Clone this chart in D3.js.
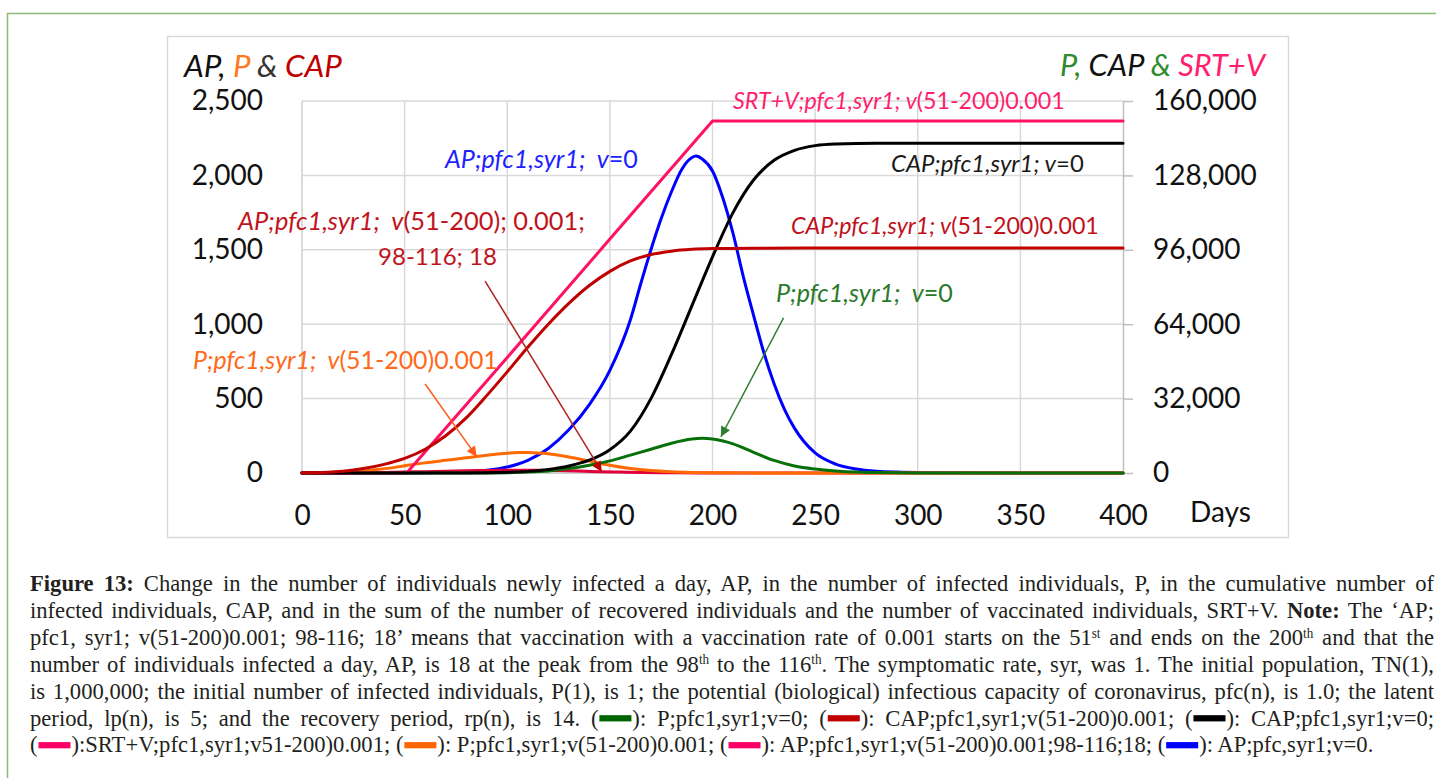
<!DOCTYPE html>
<html>
<head>
<meta charset="utf-8">
<title>Figure 13</title>
<script src="https://cdn.jsdelivr.net/npm/d3@7/dist/d3.min.js"></script>
<style>
  html, body { margin:0; padding:0; background:#ffffff; }
  svg { display:block; }
</style>
</head>
<body>
<svg id="chart" width="1436" height="778"></svg>
<script>
// ---------------- data ----------------
const dayTicks   = [0, 50, 100, 150, 200, 250, 300, 350, 400];
const leftTicks  = [0, 500, 1000, 1500, 2000, 2500];
const rightTicks = [0, 32000, 64000, 96000, 128000, 160000];

// AP;pfc1,syr1;v=0  (blue, left axis)
const apV0Days   = [0, 40, 60, 70, 80, 90, 100, 110, 120, 130, 140, 150, 160, 165, 170, 175, 180, 185, 190, 192, 195, 200, 205, 210, 215, 220, 225, 230, 235, 240, 250, 260, 270, 280, 290, 300, 320, 350, 400];
const apV0Values = [0, 0.5, 2, 4, 8, 18, 40, 85, 165, 290, 460, 690, 1030, 1270, 1500, 1710, 1890, 2040, 2120, 2130, 2110, 2030, 1850, 1610, 1320, 1060, 810, 600, 430, 300, 135, 60, 27, 12, 6, 3, 1, 0, 0];

// AP;pfc1,syr1;v(51-200)0.001;98-116;18  (left axis)
const apVacDays   = [0, 20, 30, 40, 50, 60, 70, 80, 90, 98, 107, 116, 125, 135, 145, 155, 165, 175, 185, 200, 220, 250, 400];
const apVacValues = [0, 0.4, 2, 4, 6.5, 9, 12, 15, 17, 18, 18, 18, 16, 13, 9, 6, 3.5, 2, 1, 0.4, 0.1, 0, 0];

// P;pfc1,syr1;v(51-200)0.001  (orange, left axis)
const pVacDays   = [0, 10, 20, 30, 40, 50, 60, 70, 80, 90, 100, 105, 110, 115, 120, 130, 140, 150, 160, 170, 180, 190, 200, 220, 400];
const pVacValues = [0, 1, 5, 14, 28, 48, 68, 85, 102, 120, 133, 137, 137, 135, 130, 108, 80, 52, 30, 16, 8, 4, 2, 0.5, 0];

// P;pfc1,syr1;v=0  (green, right axis)
const pV0Days   = [0, 90, 100, 110, 120, 130, 140, 150, 160, 170, 180, 190, 195, 200, 210, 220, 230, 240, 250, 260, 270, 280, 300, 320, 400];
const pV0Values = [0, 50, 150, 400, 900, 1900, 3300, 5200, 7700, 10200, 12800, 14600, 14900, 14600, 12500, 8900, 5400, 3000, 1700, 900, 400, 180, 40, 0, 0];

// CAP;pfc1,syr1;v=0  (black, right axis)
const capV0Days   = [0, 80, 100, 110, 120, 130, 140, 150, 160, 170, 180, 190, 200, 210, 220, 230, 240, 250, 260, 280, 300, 400];
const capV0Values = [0, 50, 300, 700, 1500, 3000, 5500, 10000, 18000, 32000, 51000, 72000, 93000, 112000, 126000, 134500, 138800, 140800, 141500, 141800, 141800, 141800];

// CAP;pfc1,syr1;v(51-200)0.001  (dark red, left axis)
const capVacDays   = [0, 10, 20, 30, 40, 50, 60, 70, 80, 90, 100, 110, 120, 130, 140, 150, 160, 170, 180, 190, 200, 220, 250, 400];
const capVacValues = [1, 4, 12, 30, 58, 98, 160, 250, 370, 520, 680, 845, 1000, 1140, 1260, 1355, 1425, 1468, 1491, 1503, 1508, 1511, 1512, 1512];

// SRT+V;pfc1,syr1;v(51-200)0.001  (pink, right axis)
const srtVacDays   = [0, 51, 100, 150, 200, 400];
const srtVacValues = [0, 0, 49700, 100600, 151400, 151400];

// ---------------- layout ----------------
const plot = { left: 302, right: 1123, top: 101, bottom: 473 };
const svg = d3.select("#chart");
const tickFont = "Lato, 'Open Sans', sans-serif";

const x  = d3.scaleLinear().domain([0, 400]).range([plot.left, plot.right]);
const yL = d3.scaleLinear().domain([0, 2500]).range([plot.bottom, plot.top]);
const yR = d3.scaleLinear().domain([0, 160000]).range([plot.bottom, plot.top]);

// outer green frame (left and top edges only are visible)
svg.append("path").attr("d", "M7.5,790 V13.5 H1436")
   .attr("fill", "none").attr("stroke", "#8dbb73").attr("stroke-width", 1.5);
// chart area frame
svg.append("rect").attr("x", 167.5).attr("y", 36.5).attr("width", 1121).attr("height", 501)
   .attr("fill", "#fff").attr("stroke", "#d9d9d9").attr("stroke-width", 1.5);

// grid
const grid = svg.append("g");
grid.selectAll("line.v").data(dayTicks.filter(d => d > 0 && d < 400)).join("line")
  .attr("x1", d => x(d)).attr("x2", d => x(d)).attr("y1", plot.top).attr("y2", plot.bottom)
  .attr("stroke", "#d9d9d9").attr("stroke-width", 1.5);
grid.selectAll("line.h").data(leftTicks.filter(d => d > 0)).join("line")
  .attr("x1", plot.left).attr("x2", plot.right).attr("y1", d => yL(d)).attr("y2", d => yL(d))
  .attr("stroke", "#d9d9d9").attr("stroke-width", 1.5);
grid.append("line").attr("x1", plot.left).attr("x2", plot.left).attr("y1", plot.top).attr("y2", plot.bottom)
  .attr("stroke", "#cfcfcf").attr("stroke-width", 1.5);
grid.append("line").attr("x1", plot.left).attr("x2", plot.right).attr("y1", plot.bottom).attr("y2", plot.bottom)
  .attr("stroke", "#bfbfbf").attr("stroke-width", 1.5);

// axes
const axL = svg.append("g").attr("transform", `translate(${plot.left},0)`)
  .call(d3.axisLeft(yL).tickValues(leftTicks).tickSize(0).tickPadding(39).tickFormat(d3.format(",")));
axL.select(".domain").remove();
const axR = svg.append("g").attr("transform", `translate(${plot.right},0)`)
  .call(d3.axisRight(yR).tickValues(rightTicks).tickSize(10).tickSizeOuter(0).tickPadding(20).tickFormat(d3.format(",")));
axR.select(".domain").attr("stroke", "#bfbfbf").attr("stroke-width", 1.5);
axR.selectAll(".tick line").attr("stroke", "#bfbfbf").attr("stroke-width", 1.5);
const axB = svg.append("g").attr("transform", `translate(0,${plot.bottom})`)
  .call(d3.axisBottom(x).tickValues(dayTicks).tickSize(0).tickPadding(32).tickFormat(d3.format("d")));
axB.select(".domain").remove();
svg.selectAll(".tick text").attr("font-family", tickFont).attr("font-size", 28).attr("fill", "#111");
svg.append("text").attr("x", 1190).attr("y", 522).attr("font-family", tickFont).attr("font-size", 28)
  .attr("fill", "#111").text("Days");

// rich text helper (fits a label to its measured width in the reference)
function richText(parent, parts, opts) {
  const t = parent.append("text").attr("x", opts.x).attr("y", opts.y)
    .attr("font-family", tickFont).attr("font-size", 22)
    .attr("text-anchor", opts.anchor || "start")
    .attr("xml:space", "preserve").style("white-space", "pre");
  parts.forEach(p => t.append("tspan").attr("fill", p.c || opts.c).attr("font-style", p.i ? "italic" : "normal").text(p.t));
  const len = t.node().getComputedTextLength();
  if (opts.w) t.attr("font-size", 22 * opts.w / len);
  return t;
}
// axis titles
richText(svg, [
  {t: "AP, ", c: "#111", i: 1}, {t: "P", c: "#ff7a1f", i: 1}, {t: " & ", c: "#333", i: 1}, {t: "CAP", c: "#c00000", i: 1}
], {x: 184, y: 77, w: 158});
richText(svg, [
  {t: "P, ", c: "#2e8b2e", i: 1}, {t: "CAP", c: "#111", i: 1}, {t: " & ", c: "#2e8b2e", i: 1}, {t: "SRT+V", c: "#ff1f6e", i: 1}
], {x: 1265, y: 76, w: 205, anchor: "end"});

// series (drawing order bottom -> top)
const series = [
  {days: apV0Days,  vals: apV0Values,  y: yL, color: "#0000ff"},
  {days: apVacDays, vals: apVacValues, y: yL, color: "#e0003c"},
  {days: pVacDays,  vals: pVacValues,  y: yL, color: "#ff6a00"},
  {days: pV0Days,   vals: pV0Values,   y: yR, color: "#087008"},
  {days: srtVacDays, vals: srtVacValues, y: yR, color: "#ff1166", linear: true},
  {days: capV0Days, vals: capV0Values, y: yR, color: "#000000"},
  {days: capVacDays, vals: capVacValues, y: yL, color: "#c00000"}
];
const gS = svg.append("g");
series.forEach(s => {
  const pts = s.days.map((d, i) => [d, s.vals[i]]);
  const line = d3.line().x(d => x(d[0])).y(d => s.y(d[1]))
    .curve(s.linear ? d3.curveLinear : d3.curveMonotoneX);
  gS.append("path").attr("d", line(pts)).attr("fill", "none").attr("stroke", s.color)
    .attr("stroke-width", 3).attr("stroke-linejoin", "round").attr("stroke-linecap", "round");
});

// arrows (anchored in data space)
const defs = svg.append("defs");
function marker(id, color) {
  defs.append("marker").attr("id", id).attr("viewBox", "0 0 10 10").attr("refX", 10).attr("refY", 5)
    .attr("markerUnits", "userSpaceOnUse").attr("markerWidth", 13).attr("markerHeight", 10)
    .attr("orient", "auto")
    .append("path").attr("d", "M0,0 L10,5 L0,10 z").attr("fill", color);
}
marker("mRed", "#c00000"); marker("mOrange", "#ff5a1a"); marker("mGreen", "#2e7d32");
const arrows = [
  {from: [89.2, 1290], to: [146, 9], y: yL, color: "#b02424", m: "mRed"},
  {from: [60, 598], to: [85.1, 110], y: yL, color: "#ff5a1a", m: "mOrange"},
  {from: [234.6, 66700], to: [204.1, 15600], y: yR, color: "#2e7d32", m: "mGreen"}
];
arrows.forEach(a => {
  svg.append("line").attr("x1", x(a.from[0])).attr("y1", a.y(a.from[1]))
    .attr("x2", x(a.to[0])).attr("y2", a.y(a.to[1]))
    .attr("stroke", a.color).attr("stroke-width", 1.5).attr("marker-end", `url(#${a.m})`);
});

// annotations
const notes = [
  {parts: [{t: "SRT+V;pfc1,syr1; v", i: 1}, {t: "(51-200)0.001"}], c: "#ff1f6e", x: 733, y: 109, w: 332},
  {parts: [{t: "AP;pfc1,syr1;  v", i: 1}, {t: "=0"}], c: "#1f1fff", x: 445, y: 168, w: 193},
  {parts: [{t: "CAP;pfc1,syr1; v", i: 1}, {t: "=0"}], c: "#1a1a1a", x: 891, y: 172, w: 193},
  {parts: [{t: "CAP;pfc1,syr1; v", i: 1}, {t: "(51-200)0.001"}], c: "#c0101a", x: 791, y: 234, w: 308},
  {parts: [{t: "AP;pfc1,syr1;  v", i: 1}, {t: "(51-200); 0.001;"}], c: "#c0141c", x: 238, y: 230, w: 347},
  {parts: [{t: "98-116; 18"}], c: "#c0141c", x: 378, y: 265, w: 119},
  {parts: [{t: "P;pfc1,syr1;  v", i: 1}, {t: "(51-200)0.001"}], c: "#ff6a1a", x: 193, y: 369, w: 305},
  {parts: [{t: "P;pfc1,syr1;  v", i: 1}, {t: "=0"}], c: "#2a7a2a", x: 776, y: 302, w: 177}
];
notes.forEach(n => richText(svg, n.parts, {x: n.x, y: n.y, w: n.w, c: n.c}));

// ---------------- caption ----------------
const captionLines = [
  [{b: "Figure 13:"}, " Change in the number of individuals newly infected a day, AP, in the number of infected individuals, P, in the cumulative number of"],
  ["infected individuals, CAP, and in the sum of the number of recovered individuals and the number of vaccinated individuals, SRT+V. ", {b: "Note:"}, " The \u2018AP;"],
  ["pfc1, syr1; v(51-200)0.001; 98-116; 18\u2019 means that vaccination with a vaccination rate of 0.001 starts on the 51", {sup: "st"}, " and ends on the 200", {sup: "th"}, " and that the"],
  ["number of individuals infected a day, AP, is 18 at the peak from the 98", {sup: "th"}, " to the 116", {sup: "th"}, ". The symptomatic rate, syr, was 1. The initial population, TN(1),"],
  ["is 1,000,000; the initial number of infected individuals, P(1), is 1; the potential (biological) infectious capacity of coronavirus, pfc(n), is 1.0; the latent"],
  ["period, lp(n), is 5; and the recovery period, rp(n), is 14. (", {sw: "#006400"}, "): P;pfc1,syr1;v=0; (", {sw: "#c00000"}, "): CAP;pfc1,syr1;v(51-200)0.001; (", {sw: "#000000"}, "): CAP;pfc1,syr1;v=0;"],
  ["(", {sw: "#ff0066"}, "):SRT+V;pfc1,syr1;v51-200)0.001; (", {sw: "#ff6600"}, "): P;pfc1,syr1;v(51-200)0.001; (", {sw: "#ff0066"}, "): AP;pfc1,syr1;v(51-200)0.001;98-116;18; (", {sw: "#0000ff"}, "): AP;pfc,syr1;v=0."]
];
const cap = { x: 30, right: 1434, lastRight: 1374, y0: 591, dy: 26.9, fs: 24 };
const capFont = "'Liberation Serif', 'DejaVu Serif', serif";
const SW = "\u2002\u2002\u2002";

function buildLine(parent, segs, fs) {
  const t = parent.append("text").attr("x", 0).attr("y", 0)
    .attr("font-family", capFont).attr("font-size", fs).attr("fill", "#231f20")
    .attr("xml:space", "preserve").style("white-space", "pre");
  const sws = [];
  let idx = 0;
  segs.forEach(s => {
    if (typeof s === "string") { t.append("tspan").text(s); idx += s.length; }
    else if (s.b) { t.append("tspan").attr("font-weight", "bold").text(s.b); idx += s.b.length; }
    else if (s.sup) { t.append("tspan").attr("baseline-shift", "super").attr("font-size", fs * 0.58).text(s.sup); idx += s.sup.length; }
    else if (s.sw) { t.append("tspan").text(SW); sws.push({idx, c: s.sw}); idx += SW.length; }
  });
  return {t, sws};
}
// horizontal condensation measured on the last (unjustified) line
const probeG = svg.append("g").attr("transform", "translate(0,-200)");
const probe = buildLine(probeG, captionLines[6], cap.fs);
const probeLen = probe.t.node().getComputedTextLength();
probeG.remove();
const sx = (cap.lastRight - cap.x) / probeLen;

captionLines.forEach((segs, i) => {
  const y = cap.y0 + i * cap.dy;
  const g = svg.append("g").attr("transform", `translate(${cap.x},${y}) scale(${sx},1)`);
  const {t, sws} = buildLine(g, segs, cap.fs);
  if (i < captionLines.length - 1) {
    const txt = t.node().textContent;
    const n = (txt.match(/ /g) || []).length;
    const len = t.node().getComputedTextLength();
    const target = (cap.right - cap.x) / sx;
    t.style("word-spacing", ((target - len) / n) + "px");
  }
  sws.forEach(s => {
    const node = t.node();
    const p0 = node.getStartPositionOfChar(s.idx);
    const p1 = node.getEndPositionOfChar(s.idx + SW.length - 1);
    g.append("rect").attr("x", p0.x + 1).attr("y", -cap.fs * 0.43)
      .attr("width", p1.x - p0.x - 2).attr("height", cap.fs * 0.26).attr("fill", s.c);
  });
});
</script>
</body>
</html>
